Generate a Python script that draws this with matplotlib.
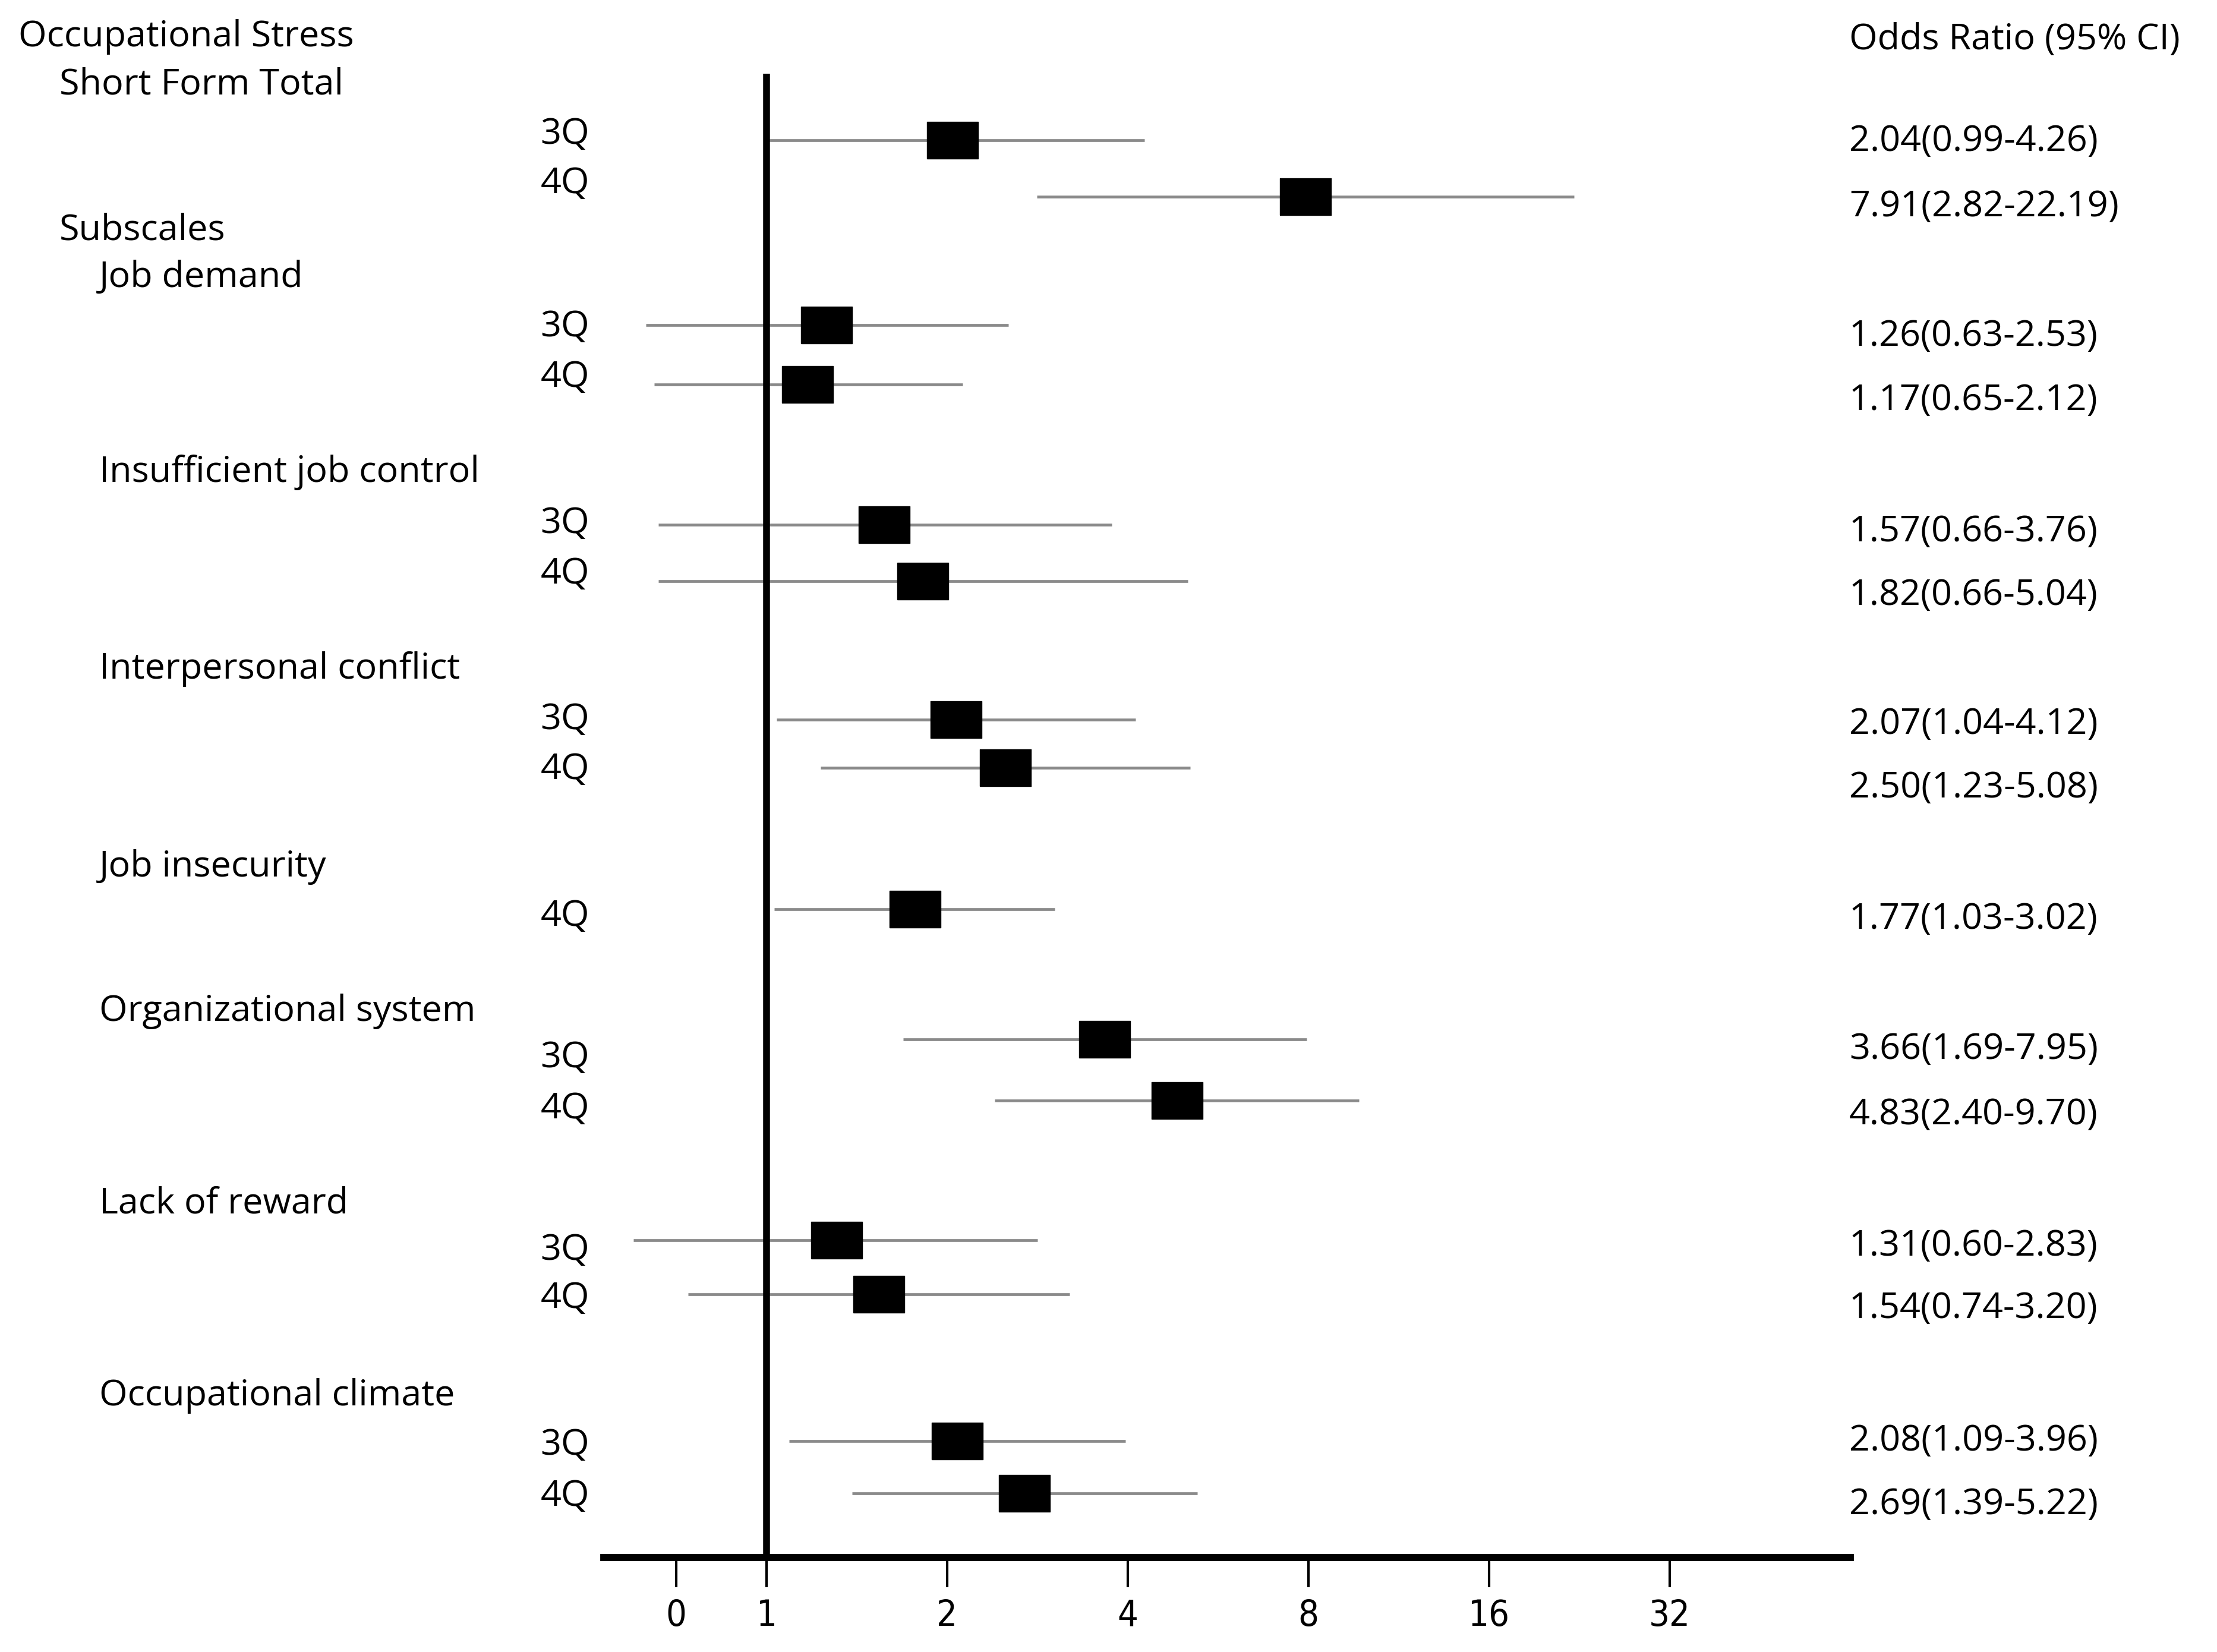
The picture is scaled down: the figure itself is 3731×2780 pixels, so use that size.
import matplotlib
matplotlib.use('Agg')
import matplotlib.pyplot as plt
from matplotlib.transforms import blended_transform_factory

plt.rcParams['font.family'] = ['Open Sans', 'DejaVu Sans']

# data
groups = ['Short Form Total', 'Job demand', 'Insufficient job control',
          'Interpersonal conflict', 'Job insecurity', 'Organizational system',
          'Lack of reward', 'Occupational climate']
quartiles = [['3Q', '4Q'], ['3Q', '4Q'], ['3Q', '4Q'], ['3Q', '4Q'],
             ['4Q'], ['3Q', '4Q'], ['3Q', '4Q'], ['3Q', '4Q']]
odds = [2.04, 7.91, 1.26, 1.17, 1.57, 1.82, 2.07, 2.50,
        1.77, 3.66, 4.83, 1.31, 1.54, 2.08, 2.69]
ci_low = [0.99, 2.82, 0.63, 0.65, 0.66, 0.66, 1.04, 1.23,
          1.03, 1.69, 2.40, 0.60, 0.74, 1.09, 1.39]
ci_high = [4.26, 22.19, 2.53, 2.12, 3.76, 5.04, 4.12, 5.08,
           3.02, 7.95, 9.70, 2.83, 3.20, 3.96, 5.22]
tick_vals = [2 ** -0.5, 1, 2, 4, 8, 16, 32]
tick_labels = ['0', '1', '2', '4', '8', '16', '32']

# layout (vertical positions, top = 0)
mark_y = [99, 139, 230, 272, 371, 411, 509, 543, 643,
          735, 778, 877, 915, 1019, 1056]
qlab_y = [95, 130, 231, 267, 370, 406, 509, 544, 648,
          748, 784, 884, 918, 1022, 1058]
text_y = [100, 146, 238, 283, 376, 421, 512, 557, 650,
          742, 788, 881, 925, 1019, 1064]
group_y = [60, 196, 334, 473, 613, 715, 851, 987]

W, H = 3731, 2780
fig = plt.figure(figsize=(W / 100, H / 100), dpi=100)
ax = fig.add_axes([0, 67 / 1168, 1, 1101 / 1168])
ax.set_xscale('log', base=2)
ax.set_xlim(2 ** (-1290 / 304), 2 ** ((W - 1290) / 304))
ax.set_ylim(1101, 0)

for s in ['top', 'left', 'right']:
    ax.spines[s].set_visible(False)
ax.spines['bottom'].set_linewidth(8.5)
ax.spines['bottom'].set_bounds(2 ** -0.9, 64)
ax.set_yticks([])
ax.set_xticks(tick_vals)
ax.set_xticklabels(tick_labels)
ax.minorticks_off()
ax.tick_params(axis='x', direction='out', length=36, width=3, pad=14,
               labelsize=44)
for lab in ax.get_xticklabels():
    lab.set_family(['DejaVu Sans'])
    lab.set_fontstretch('condensed')

ax.vlines(1, 52, 1101, color='black', linewidth=8.3, zorder=3)

ax.hlines(mark_y, ci_low, ci_high, color='#8a8a8a', linewidth=3.4, zorder=2)
rect = [(-1, -0.727), (1, -0.727), (1, 0.727), (-1, 0.727), (-1, -0.727)]
ax.plot(odds, mark_y, linestyle='none', marker=rect, markersize=62,
        color='black', zorder=4)

fs = 44
tr = blended_transform_factory(fig.transFigure, ax.transData)
ax.text(31 / W, 26, 'Occupational Stress', transform=tr, fontsize=fs,
        va='center', ha='left')
ax.text(100 / W, 163, 'Subscales', transform=tr, fontsize=fs,
        va='center', ha='left')
for i, (g, gy) in enumerate(zip(groups, group_y)):
    x = 100 if i == 0 else 167
    ax.text(x / W, gy, g, transform=tr, fontsize=fs, va='center', ha='left')

qs = [q for grp in quartiles for q in grp]
for q, qy in zip(qs, qlab_y):
    ax.text(992 / W, qy, q, transform=tr, fontsize=fs, va='center', ha='right')

ax.text(3112 / W, 28, 'Odds Ratio (95% CI)', transform=tr, fontsize=fs,
        va='center', ha='left')
for o, lo, hi, ty in zip(odds, ci_low, ci_high, text_y):
    ax.text(3112 / W, ty, f'{o:.2f}({lo:.2f}-{hi:.2f})', transform=tr,
            fontsize=fs, va='center', ha='left')

fig.savefig('out.png', dpi=100)
